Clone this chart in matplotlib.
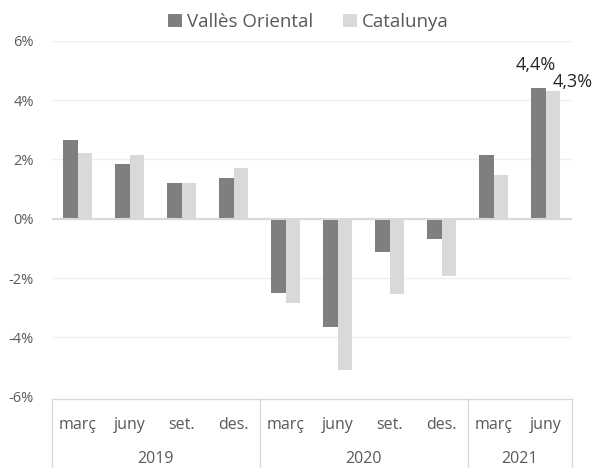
import matplotlib.pyplot as plt
import matplotlib.transforms as mtransforms
import numpy as np

plt.rcParams['font.family'] = ['Open Sans', 'DejaVu Sans']

# --- Dades ---
mesos = ['març', 'juny', 'set.', 'des.', 'març', 'juny', 'set.', 'des.', 'març', 'juny']
anys = ['2019', '2020', '2021']
mesos_per_any = [4, 4, 2]
valles = [2.66, 1.85, 1.19, 1.37, -2.49, -3.65, -1.11, -0.69, 2.14, 4.4]
catalunya = [2.22, 2.14, 1.19, 1.71, -2.83, -5.11, -2.54, -1.94, 1.49, 4.3]

COL_V = '#7f7f7f'
COL_C = '#d9d9d9'
TXT = '#595959'

fig = plt.figure(figsize=(5.93, 4.68), dpi=100)
ax = fig.add_axes([0.0872, 0.1526, 0.877, 0.760])

x = np.arange(len(mesos))
w = 0.28
bv = ax.bar(x - w / 2, valles, w, color=COL_V, label='Vallès Oriental', zorder=3)
bc = ax.bar(x + w / 2, catalunya, w, color=COL_C, label='Catalunya', zorder=3)

ax.set_xlim(-0.5, len(mesos) - 0.5)
ax.set_ylim(-6, 6)
ax.set_yticks(range(-6, 7, 2))
ax.set_yticklabels([f'{v}%' for v in range(-6, 7, 2)], color=TXT, fontsize=10.5)
ax.tick_params(axis='y', length=0, pad=13)
ax.set_xticks([])
for s in ax.spines.values():
    s.set_visible(False)
ax.grid(axis='y', color='#efefef', linewidth=1, zorder=0)
ax.axhline(0, color='#d9d9d9', linewidth=1.5, zorder=4)

# etiquetes de dades (només juny 2021)
ax.annotate('4,4%', (x[-1] - w / 2, valles[-1]), xytext=(-2, 10), textcoords='offset points',
            ha='center', va='bottom', fontsize=13, color='#262626')
ax.annotate('4,3%', (x[-1] + w / 2, catalunya[-1]), xytext=(14, 0), textcoords='offset points',
            ha='center', va='bottom', fontsize=13, color='#262626')

# eix de categories amb caixa
trans = mtransforms.blended_transform_factory(ax.transData, fig.transFigure)
ybox = 1 - 399 / 468
ax.plot([-0.5, len(mesos) - 0.5], [ybox, ybox], transform=trans, color='#d9d9d9',
        linewidth=1, clip_on=False)
limits = np.cumsum([0] + mesos_per_any) - 0.5
for b in limits:
    ax.plot([b, b], [ybox, -0.05], transform=trans, color='#d9d9d9', linewidth=1, clip_on=False)
for i, m in enumerate(mesos):
    ax.text(x[i], 1 - 425 / 468, m, transform=trans, ha='center', va='center',
            fontsize=11.5, color=TXT)
for i, a in enumerate(anys):
    ax.text((limits[i] + limits[i + 1]) / 2, 1 - 459 / 468, a, transform=trans,
            ha='center', va='center', fontsize=11.5, color=TXT)

fig.legend(handles=[bv, bc], loc='center', bbox_to_anchor=(0.52, 1 - 22 / 468), ncol=2,
           frameon=False, fontsize=13.5, labelcolor=TXT, handlelength=0.75, handleheight=0.75,
           handletextpad=0.25, columnspacing=1.6)

fig.savefig('out.png', dpi=100)
